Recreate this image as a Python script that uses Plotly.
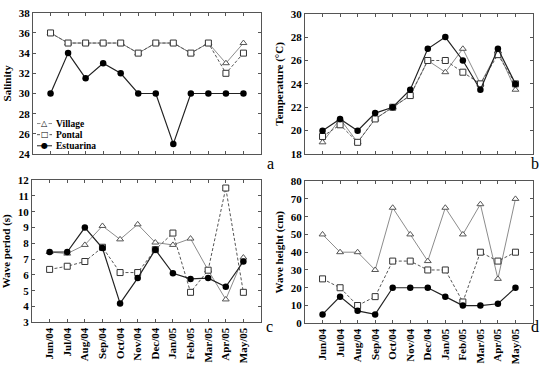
import plotly.graph_objects as go

months = ["Jun/04", "Jul/04", "Aug/04", "Sep/04", "Oct/04", "Nov/04", "Dec/04",
          "Jan/05", "Feb/05", "Mar/05", "Apr/05", "May/05"]

sal_village = [36, 35, 35, 35, 35, 34, 35, 35, 34, 35, 33, 35]
sal_pontal = [36, 35, 35, 35, 35, 34, 35, 35, 34, 35, 32, 34]
sal_estuarina = [30, 34, 31.5, 33, 32, 30, 30, 25, 30, 30, 30, 30]

temp_village = [19, 21, 19, 21, 22, 23, 26, 25, 27, 24, 26.8, 23.5]
temp_pontal = [19.5, 20.5, 19, 21, 22, 23, 26, 26, 25, 24, 26.5, 24]
temp_estuarina = [20, 21, 20, 21.5, 22, 23.5, 27, 28, 26, 23.5, 27, 24]

per_village = [7.45, 7.35, 7.9, 9.1, 8.25, 9.2, 8.05, 7.9, 8.3, 6.3, 4.45, 7.1]
per_pontal = [6.35, 6.55, 6.85, 7.75, 6.15, 6.15, 7.6, 8.65, 4.9, 6.3, 11.5, 4.9]
per_estuarina = [7.45, 7.45, 9.0, 7.7, 4.2, 5.8, 7.6, 6.1, 5.75, 5.8, 5.25, 6.85]

hgt_village = [50, 40, 40, 30, 65, 50, 35, 65, 50, 67, 25, 70]
hgt_pontal = [25, 20, 10, 15, 35, 35, 30, 30, 12, 40, 35, 40]
hgt_estuarina = [5, 15, 7, 5, 20, 20, 20, 15, 10, 10, 11, 20]

series_names = ["Village", "Pontal", "Estuarina"]

W, H = 547, 368
FONT = "Liberation Serif"

def px_x(a, b):
    return [a / W, b / W]

def px_y(top, bottom):
    return [1 - bottom / H, 1 - top / H]

panels = [
    dict(x=px_x(33, 261), y=px_y(7, 153), data=(sal_village, sal_pontal, sal_estuarina),
         rng=[24, 38], dt=2, title="Salinity", labels=False, letter="a", lx=270, ly=163),
    dict(x=px_x(305, 533), y=px_y(8, 153), data=(temp_village, temp_pontal, temp_estuarina),
         rng=[18, 30], dt=2, title="Temperature (°C)", labels=False, letter="b", lx=541, ly=163),
    dict(x=px_x(32, 261), y=px_y(180, 327), data=(per_village, per_pontal, per_estuarina),
         rng=[3, 12], dt=1, title="Wave period (s)", labels=True, letter="c", lx=269, ly=342),
    dict(x=px_x(305, 533), y=px_y(181, 328), data=(hgt_village, hgt_pontal, hgt_estuarina),
         rng=[0, 80], dt=10, title="Wave height (cm)", labels=True, letter="d", lx=541, ly=342),
]

styles = [
    dict(line=dict(color="#8c8c8c", width=1, dash="solid"),
         marker=dict(symbol="triangle-up", size=6, color="white", line=dict(color="#555555", width=1))),
    dict(line=dict(color="#555555", width=1, dash="3px,2px"),
         marker=dict(symbol="square", size=6, color="white", line=dict(color="#333333", width=1))),
    dict(line=dict(color="#222222", width=1.2, dash="solid"),
         marker=dict(symbol="circle", size=6.5, color="black", line=dict(color="black", width=0))),
]

fig = go.Figure()
annotations = []
shapes = []
for i, p in enumerate(panels):
    n = "" if i == 0 else str(i + 1)
    xa, ya = "x" + n, "y" + n
    for name, s, vals in zip(series_names, styles, p["data"]):
        fig.add_trace(go.Scatter(x=list(range(len(months))), y=vals, mode="lines+markers",
                                 name=name, line=s["line"], marker=s["marker"],
                                 xaxis=xa, yaxis=ya, showlegend=False))
    axis_common = dict(showline=True, linecolor="#555555", linewidth=1, mirror="ticks",
                       ticks="inside", ticklen=3, tickcolor="#555555", showgrid=False,
                       zeroline=False,
                       tickfont=dict(family=FONT, size=11, color="black", weight="bold"))
    fig.layout["xaxis" + n] = dict(axis_common, domain=p["x"], anchor=ya, range=[-1, 12],
                                   tickmode="array", tickvals=list(range(12)),
                                   ticktext=months if p["labels"] else [""] * 12,
                                   tickangle=-90)
    fig.layout["yaxis" + n] = dict(axis_common, domain=p["y"], anchor=xa, range=p["rng"],
                                   dtick=p["dt"], tick0=p["rng"][0],
                                   title=dict(text=p["title"], standoff=4,
                                              font=dict(family=FONT, size=11, color="black",
                                                        weight="bold")))
    annotations.append(dict(text=p["letter"], x=p["lx"] / W, y=1 - p["ly"] / H,
                            xref="paper", yref="paper", showarrow=False,
                            font=dict(family=FONT, size=16, color="black")))

# legend (panel a, lower left) built from text and short line shapes
leg_rows = [121.5, 133, 144.5]
leg_glyphs = ["△", "□", "●"]
leg_dash = ["solid", "dot", "solid"]
leg_col = ["#8c8c8c", "#555555", "#222222"]
for name, yy, g, d, c in zip(series_names, leg_rows, leg_glyphs, leg_dash, leg_col):
    shapes.append(dict(type="line", xref="paper", yref="paper", x0=37 / W, x1=52 / W,
                       y0=1 - yy / H, y1=1 - yy / H, line=dict(color=c, width=1, dash=d)))
    annotations.append(dict(text=g, x=44.5 / W, y=1 - yy / H, xref="paper", yref="paper",
                            showarrow=False, xanchor="center", yanchor="middle",
                            bgcolor="white" if g != "●" else None, borderpad=0,
                            font=dict(family="DejaVu Sans", size=8, color="black")))
    annotations.append(dict(text=name, x=55 / W, y=1 - yy / H, xref="paper", yref="paper",
                            showarrow=False, xanchor="left", yanchor="middle", borderpad=0,
                            font=dict(family=FONT, size=9.5, color="black", weight="bold")))

fig.update_layout(
    width=W, height=H, margin=dict(l=0, r=0, t=0, b=0),
    paper_bgcolor="white", plot_bgcolor="white",
    annotations=annotations, shapes=shapes, showlegend=False,
)

fig.write_html("out.html")
